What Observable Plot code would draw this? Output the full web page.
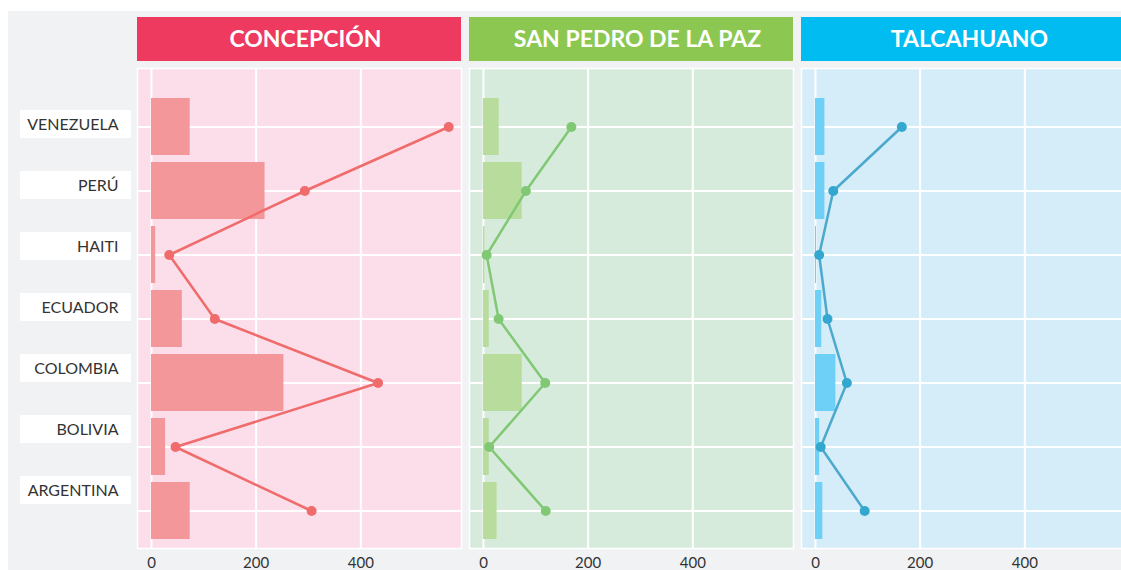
<!DOCTYPE html>
<html><head><meta charset="utf-8">
<script src="https://cdn.jsdelivr.net/npm/d3@7"></script>
<script src="https://cdn.jsdelivr.net/npm/@observablehq/plot@0.6"></script>
<style>
html,body{margin:0;padding:0;background:#fff;overflow:hidden;}
#wrap{position:relative;width:1121px;height:570px;overflow:hidden;}
#bg{position:absolute;left:8px;top:11px;width:1113px;height:559px;background:#f1f2f4;}
#wrap svg{position:absolute;left:0;top:0;max-width:none !important;}
</style></head><body><div id="wrap"><div id="bg"></div></div>
<script>
const countries = ["VENEZUELA","PERÚ","HAITI","ECUADOR","COLOMBIA","BOLIVIA","ARGENTINA"];
const communes = ["CONCEPCIÓN","SAN PEDRO DE LA PAZ","TALCAHUANO"];
const barsConcepcion = [74,217,8,59,253,27,74];
const lineConcepcion = [568,293,34,121,433,46,306];
const barsSanPedro = [30,74,3,11,74,11,26];
const lineSanPedro = [168,81,6,29,118,11,119];
const barsTalcahuano = [18,18,2,12,39,8,14];
const lineTalcahuano = [165,34,7,23,60,10,94];
const xTicks = [0,200,400];
const xDomain = [-26.7, 592.4];

const headerColors = ["#ee3a5f","#8bc751","#00bcf1"];
const panelColors = ["#fbdee9","#d7ebdd","#d5ecf9"];
const barColors = ["#f4979a","#b7dc9c","#6ed0f6"];
const lineColors = ["#f06b6b","#80c874","#4aa9cc"];
const dotColors = ["#f06b6b","#80c874","#34a7cf"];

const bars = [barsConcepcion, barsSanPedro, barsTalcahuano];
const lines = [lineConcepcion, lineSanPedro, lineTalcahuano];
const rows = [];
communes.forEach((c, i) => countries.forEach((k, j) => rows.push({commune: c, country: k, bar: bars[i][j], pt: lines[i][j]})));

const keys = [], colors = [];
communes.forEach((c, i) => {
  keys.push(c + "|head", c + "|bg", c + "|bar", c + "|line", c + "|dot");
  colors.push(headerColors[i], panelColors[i], barColors[i], lineColors[i], dotColors[i]);
});
const colorScale = {type: "ordinal", domain: keys, range: colors};
const fxOpts = {domain: communes, paddingInner: 0.024, paddingOuter: 0, axis: null};

const labels = Plot.plot({
  width: 136, height: 570, marginLeft: 20, marginRight: 5, marginTop: 0, marginBottom: 0,
  style: {background: "transparent", fontFamily: "Lato", fontSize: "16px"},
  y: {type: "band", domain: countries, range: [109, 504], paddingInner: 0.542, paddingOuter: 0, axis: null},
  marks: [
    Plot.cell(countries, {y: d => d, fill: "white"}),
    Plot.text(countries, {y: d => d, text: d => d, frameAnchor: "right", dx: -13, fill: "#333", fontSize: 16})
  ]
});

const main = Plot.plot({
  width: 1130, height: 570, marginTop: 68, marginBottom: 22, marginLeft: 136, marginRight: 3,
  style: {background: "transparent", fontFamily: "Lato", fontSize: "15px", color: "#333"},
  fx: fxOpts,
  x: {domain: xDomain, ticks: xTicks, tickSize: 0, tickPadding: 9, label: null},
  y: {type: "band", domain: countries, range: [94, 542], paddingInner: 0.11, paddingOuter: 0.055, axis: null},
  color: colorScale,
  marks: [
    Plot.rect(communes, {fx: d => d, fill: d => d + "|bg"}),
    Plot.ruleX(xTicks, {x: d => d, stroke: "white", strokeWidth: 2}),
    Plot.ruleY(countries, {y: d => d, stroke: "white", strokeWidth: 2}),
    Plot.barX(rows, {x: "bar", y: "country", fx: "commune", fill: d => d.commune + "|bar"}),
    Plot.line(rows, {x: "pt", y: "country", fx: "commune", z: "commune", stroke: d => d.commune + "|line", strokeWidth: 2.5}),
    Plot.dot(rows, {x: "pt", y: "country", fx: "commune", r: 5, fill: d => d.commune + "|dot"}),
    Plot.frame({stroke: "white", strokeWidth: 1.5})
  ]
});

const head = Plot.plot({
  width: 1130, height: 61, marginTop: 17, marginBottom: 0, marginLeft: 136, marginRight: 3,
  style: {background: "transparent", fontFamily: "Lato"},
  fx: fxOpts,
  color: colorScale,
  marks: [
    Plot.rect(communes, {fx: d => d, fill: d => d + "|head"}),
    Plot.text(communes, {fx: d => d, text: d => d, frameAnchor: "middle", fill: "white", fontSize: 23, fontWeight: "bold", dx: 6})
  ]
});

const wrap = document.getElementById("wrap");
wrap.appendChild(labels);
wrap.appendChild(main);
wrap.appendChild(head);
</script></body></html>
